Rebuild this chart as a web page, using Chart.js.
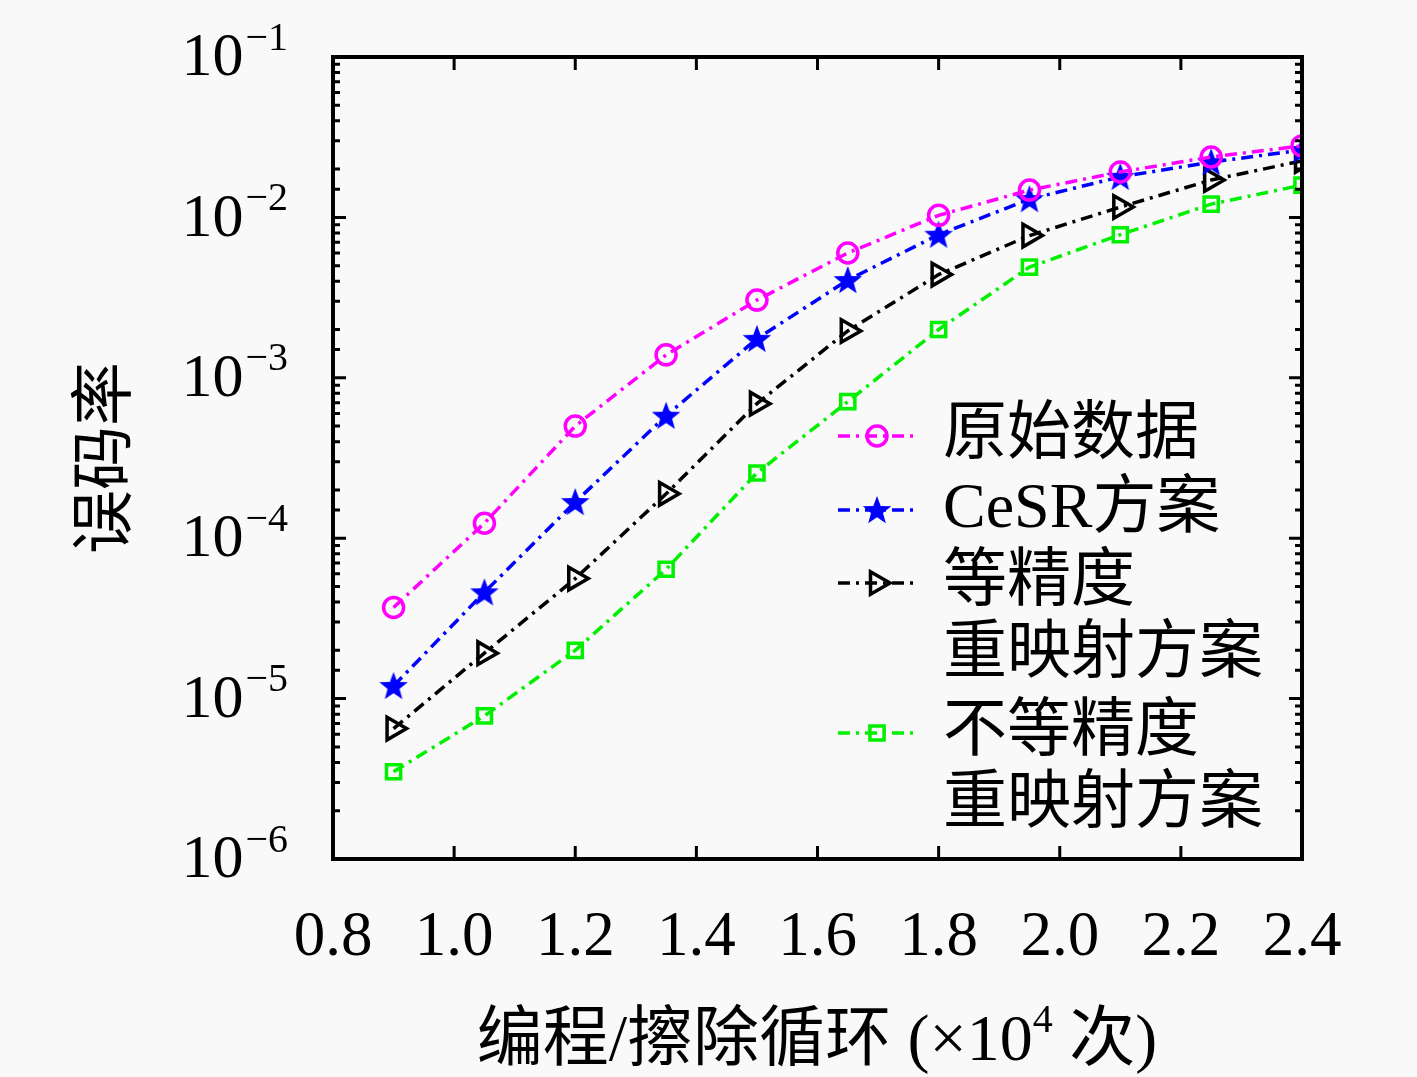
<!DOCTYPE html>
<html>
<head>
<meta charset="utf-8">
<script src="https://cdn.jsdelivr.net/npm/chart.js@4/dist/chart.umd.min.js"></script>
<style>
  html, body { margin: 0; padding: 0; background: #f9f9f9; }
  canvas { display: block; }
</style>
</head>
<body>
<canvas id="berChart" width="1417" height="1077"></canvas>
<script>
// cycles (x10^4)
const cycles = [0.9, 1.05, 1.2, 1.35, 1.5, 1.65, 1.8, 1.95, 2.1, 2.25, 2.4];

// bit error rate per scheme
const rawData     = [3.7e-5, 1.24e-4, 5.0e-4, 1.39e-3, 3.05e-3, 6.0e-3, 1.03e-2, 1.48e-2, 1.92e-2, 2.38e-2, 2.79e-2];
const cesrData    = [1.2e-5, 4.6e-5, 1.68e-4, 5.8e-4, 1.75e-3, 4.07e-3, 7.8e-3, 1.3e-2, 1.79e-2, 2.21e-2, 2.63e-2];
const equalData   = [6.5e-6, 1.92e-5, 5.6e-5, 1.89e-4, 6.9e-4, 1.96e-3, 4.4e-3, 7.7e-3, 1.16e-2, 1.71e-2, 2.25e-2];
const unequalData = [3.5e-6, 7.8e-6, 2.0e-5, 6.4e-5, 2.55e-4, 7.1e-4, 2.0e-3, 4.9e-3, 7.8e-3, 1.21e-2, 1.59e-2];

const legendLabels = [['原始数据'], ['CeSR方案'], ['等精度', '重映射方案'], ['不等精度', '重映射方案']];
const yExponents = ['−1', '−2', '−3', '−4', '−5', '−6'];
const yTitle = '误码率';
const xTitleParts = ['编程/擦除循环 (×10', '4', ' 次)'];

const SERIF = '"Liberation Serif", "DejaVu Serif", "Noto Sans CJK SC", serif';
const BG = '#f9f9f9';

function toPoints(arr) {
  return arr.map((v, i) => ({ x: cycles[i], y: v }));
}

// filled five point star for the CeSR series
function makeStar(color, r) {
  const c = document.createElement('canvas');
  const s = Math.ceil(r * 2 + 4);
  c.width = s; c.height = s;
  const g = c.getContext('2d');
  g.translate(s / 2, s / 2 + 1);
  g.beginPath();
  for (let i = 0; i < 10; i++) {
    const rr = i % 2 === 0 ? r : r * 0.42;
    const a = -Math.PI / 2 + i * Math.PI / 5;
    g.lineTo(rr * Math.cos(a), rr * Math.sin(a));
  }
  g.closePath();
  g.fillStyle = color;
  g.fill();
  return c;
}

const dash = [12, 6, 3, 6];

const datasets = [
  { label: '原始数据', data: toPoints(rawData), borderColor: '#ff00ff',
    pointStyle: 'circle', pointRadius: 10, pointRotation: 0 },
  { label: 'CeSR方案', data: toPoints(cesrData), borderColor: '#0000ff',
    pointStyle: makeStar('#0000ff', 15), pointRadius: 15, pointRotation: 0 },
  { label: '等精度重映射方案', data: toPoints(equalData), borderColor: '#000000',
    pointStyle: 'triangle', pointRadius: 13, pointRotation: 90 },
  { label: '不等精度重映射方案', data: toPoints(unequalData), borderColor: '#00f000',
    pointStyle: 'rect', pointRadius: 10, pointRotation: 0 }
].map(d => Object.assign(d, {
  borderWidth: 3.5,
  borderDash: dash,
  pointBorderColor: d.borderColor,
  pointBackgroundColor: 'rgba(0,0,0,0)',
  pointBorderWidth: 3.5,
  tension: 0,
  fill: false
}));

const bgPlugin = {
  id: 'bg',
  beforeDraw(chart) {
    const ctx = chart.ctx;
    ctx.save();
    ctx.fillStyle = BG;
    ctx.fillRect(0, 0, chart.width, chart.height);
    ctx.restore();
  }
};

// frame, inward ticks, y labels, titles, legend
const decorPlugin = {
  id: 'decor',
  afterDraw(chart) {
    const ctx = chart.ctx;
    const a = chart.chartArea;
    const xs = chart.scales.x, ys = chart.scales.y;
    ctx.save();
    ctx.strokeStyle = '#000';
    ctx.lineWidth = 4;
    ctx.strokeRect(a.left, a.top, a.right - a.left, a.bottom - a.top);

    ctx.lineWidth = 3;
    xs.ticks.forEach(t => {
      const px = xs.getPixelForValue(t.value);
      ctx.beginPath();
      ctx.moveTo(px, a.bottom); ctx.lineTo(px, a.bottom - 13);
      ctx.moveTo(px, a.top); ctx.lineTo(px, a.top + 13);
      ctx.stroke();
    });
    ys.ticks.forEach(t => {
      const py = ys.getPixelForValue(t.value);
      const lg = Math.log10(t.value);
      const major = Math.abs(lg - Math.round(lg)) < 1e-6;
      const len = major ? 13 : 7;
      ctx.beginPath();
      ctx.moveTo(a.left, py); ctx.lineTo(a.left + len, py);
      ctx.moveTo(a.right, py); ctx.lineTo(a.right - len, py);
      ctx.stroke();
    });

    // y tick labels 10^n
    ctx.fillStyle = '#000';
    ctx.textBaseline = 'middle';
    yExponents.forEach((e, i) => {
      const py = ys.getPixelForValue(Math.pow(10, -(i + 1)));
      ctx.font = '40px ' + SERIF;
      const we = ctx.measureText(e).width;
      ctx.font = '62px ' + SERIF;
      const wb = ctx.measureText('10').width;
      const right = 288;
      ctx.textAlign = 'left';
      ctx.fillText('10', right - we - wb - 2, py + 2);
      ctx.font = '40px ' + SERIF;
      ctx.fillText(e, right - we, py - 18);
    });

    // y title
    ctx.save();
    ctx.translate(108, 458);
    ctx.rotate(-Math.PI / 2);
    ctx.font = '64px ' + SERIF;
    ctx.textAlign = 'center';
    ctx.textBaseline = 'middle';
    ctx.fillText(yTitle, 0, 0);
    ctx.restore();

    // x title with superscript
    ctx.textAlign = 'left';
    ctx.textBaseline = 'alphabetic';
    const fonts = ['66px ' + SERIF, '40px ' + SERIF, '66px ' + SERIF];
    const offs = [0, -28, 0];
    let total = 0;
    const widths = xTitleParts.map((p, i) => { ctx.font = fonts[i]; const w = ctx.measureText(p).width; total += w; return w; });
    let x = 817 - total / 2;
    xTitleParts.forEach((p, i) => {
      ctx.font = fonts[i];
      ctx.fillText(p, x, 1060 + offs[i]);
      x += widths[i];
    });

    // legend
    const rowY = [436, 510, 583, 733];
    const lineH = 72;
    chart.data.datasets.forEach((ds, i) => {
      const y = rowY[i];
      ctx.save();
      ctx.strokeStyle = ds.borderColor;
      ctx.lineWidth = 3.5;
      ctx.setLineDash(dash);
      ctx.beginPath();
      ctx.moveTo(838, y); ctx.lineTo(916, y);
      ctx.stroke();
      ctx.setLineDash([]);
      ctx.fillStyle = ds.pointBackgroundColor;
      ctx.strokeStyle = ds.pointBorderColor;
      ctx.lineWidth = ds.pointBorderWidth;
      if (Chart.helpers && Chart.helpers.drawPoint) {
        Chart.helpers.drawPoint(ctx, {
          pointStyle: ds.pointStyle, radius: ds.pointRadius,
          rotation: ds.pointRotation, borderWidth: ds.pointBorderWidth
        }, 877, y);
      }
      ctx.restore();
      ctx.fillStyle = '#000';
      ctx.font = '64px ' + SERIF;
      ctx.textAlign = 'left';
      ctx.textBaseline = 'middle';
      legendLabels[i].forEach((line, j) => {
        ctx.fillText(line, 943, y + j * lineH);
      });
    });
    ctx.restore();
  }
};

new Chart(document.getElementById('berChart'), {
  type: 'line',
  data: { datasets: datasets },
  plugins: [bgPlugin, decorPlugin],
  options: {
    responsive: false,
    animation: false,
    devicePixelRatio: 1,
    layout: { padding: { left: 0, top: 57, right: 115, bottom: 0 } },
    plugins: { legend: { display: false }, tooltip: { enabled: false } },
    scales: {
      x: {
        type: 'linear', min: 0.8, max: 2.4,
        grid: { display: false, drawTicks: false },
        border: { display: false },
        ticks: {
          stepSize: 0.2, padding: 42, color: '#000',
          font: { family: SERIF, size: 63 },
          callback: v => Number(v).toFixed(1)
        },
        afterFit(scale) { scale.height = 218; }
      },
      y: {
        type: 'logarithmic', min: 1e-6, max: 1e-1,
        grid: { display: false, drawTicks: false },
        border: { display: false },
        ticks: { display: false, autoSkip: false },
        afterFit(scale) { scale.width = 333; }
      }
    }
  }
});
</script>
</body>
</html>
